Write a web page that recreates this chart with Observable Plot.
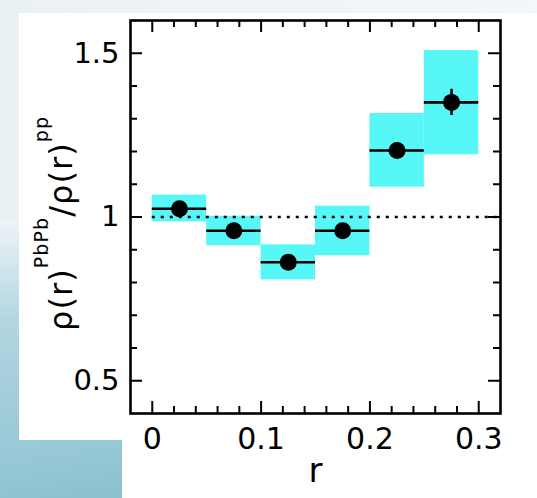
<!DOCTYPE html>
<html>
<head>
<meta charset="utf-8">
<script src="https://cdn.jsdelivr.net/npm/d3@7"></script>
<script src="https://cdn.jsdelivr.net/npm/@observablehq/plot@0.6"></script>
<style>
  html, body { margin: 0; padding: 0; }
  body { width: 537px; height: 498px; overflow: hidden; background: linear-gradient(to right, #eaf1f5, #f3f7f9); }
  #wrap { position: relative; width: 537px; height: 498px; }
  .bg { position: absolute; }
  #chart { position: absolute; left: 0; top: 0; }
</style>
</head>
<body>
<div id="wrap">
  <div class="bg" style="left:0;top:220px;width:19px;height:278px;background:linear-gradient(to bottom,#eef4f7,#b3d7e2 35%,#8fc2d1);"></div>
  <div class="bg" style="left:0;top:440px;width:122px;height:58px;background:linear-gradient(170deg,#9ccbd8,#8cc0cf);"></div>
  <div class="bg" style="left:19px;top:13px;width:518px;height:427px;background:#fff;"></div>
  <div class="bg" style="left:122px;top:440px;width:415px;height:58px;background:#fff;"></div>
  <div id="chart"></div>
</div>
<script>
// r bins
const binLo = [0.00, 0.05, 0.10, 0.15, 0.20, 0.25];
const binHi = [0.05, 0.10, 0.15, 0.20, 0.25, 0.30];
// ratio values
const ratio = [1.025, 0.958, 0.862, 0.958, 1.203, 1.350];
// statistical errors
const statErr = [0.006, 0.006, 0.006, 0.006, 0.012, 0.040];
// systematic band edges
const sysLo = [0.985, 0.912, 0.808, 0.882, 1.091, 1.190];
const sysHi = [1.067, 1.002, 0.915, 1.033, 1.316, 1.508];

// axis ticks
const xMajor = [0, 0.1, 0.2, 0.3];
const xMinor = [0.02, 0.04, 0.06, 0.08, 0.12, 0.14, 0.16, 0.18, 0.22, 0.24, 0.26, 0.28];
const yMajor = [0.5, 1, 1.5];
const yMinor = [0.6, 0.7, 0.8, 0.9, 1.1, 1.2, 1.3, 1.4];
const xDomain = [-0.02, 0.32];
const yDomain = [0.4, 1.6];

const W = 537, H = 498, mL = 130, mR = 37, mT = 20, mB = 85;
// convert tick lengths in pixels into data units of each scale
const dxPerPx = (xDomain[1] - xDomain[0]) / (W - mL - mR);
const dyPerPx = (yDomain[1] - yDomain[0]) / (H - mT - mB);
const MAJ = 12, MIN = 7;

const data = binLo.map((lo, i) => ({
  lo, hi: binHi[i], mid: (lo + binHi[i]) / 2,
  v: ratio[i], e: statErr[i], sLo: sysLo[i], sHi: sysHi[i]
}));

const tickStyle = {stroke: "black", strokeWidth: 2};
const fontFam = "'DejaVu Sans', Verdana, sans-serif";

const xTicks = (arr, len, atTop) => Plot.ruleX(arr, {
  x: d => d,
  y1: atTop ? yDomain[1] : yDomain[0],
  y2: atTop ? yDomain[1] - len * dyPerPx : yDomain[0] + len * dyPerPx,
  ...tickStyle
});
const yTicks = (arr, len, atRight) => Plot.ruleY(arr, {
  y: d => d,
  x1: atRight ? xDomain[1] : xDomain[0],
  x2: atRight ? xDomain[1] - len * dxPerPx : xDomain[0] + len * dxPerPx,
  ...tickStyle
});

const chart = Plot.plot({
  width: W,
  height: H,
  marginLeft: mL,
  marginRight: mR,
  marginTop: mT,
  marginBottom: mB,
  style: {background: "transparent", fontFamily: fontFam, fontSize: "29px", color: "black"},
  x: {domain: xDomain},
  y: {domain: yDomain},
  marks: [
    Plot.rect(data, {x1: "lo", x2: "hi", y1: "sLo", y2: "sHi", fill: "#57f7f7"}),
    Plot.ruleY([1], {x1: 0, x2: xDomain[1], stroke: "black", strokeWidth: 2.6, strokeDasharray: "3,6"}),
    Plot.ruleY(data, {y: "v", x1: "lo", x2: "hi", stroke: "black", strokeWidth: 2.6}),
    Plot.ruleX(data, {x: "mid", y1: d => d.v - d.e, y2: d => d.v + d.e, stroke: "black", strokeWidth: 2.6}),
    Plot.dot(data, {x: "mid", y: "v", r: 8.5, fill: "black", stroke: "none"}),
    xTicks(xMajor, MAJ, false), xTicks(xMinor, MIN, false),
    xTicks(xMajor, MAJ, true), xTicks(xMinor, MIN, true),
    yTicks(yMajor, MAJ, false), yTicks(yMinor, MIN, false),
    yTicks(yMajor, MAJ, true), yTicks(yMinor, MIN, true),
    Plot.frame({stroke: "black", strokeWidth: 2.6}),
    Plot.axisX({ticks: xMajor, tickSize: 0, tickPadding: 14, fontSize: 30, label: null,
      tickFormat: d => d === 0 ? "0" : d.toFixed(1)}),
    Plot.axisY({ticks: yMajor, tickSize: 0, tickPadding: 11, fontSize: 29, label: null,
      tickFormat: d => d === 1 ? "1" : d.toFixed(1)}),
    Plot.text(["r"], {frameAnchor: "bottom", dy: 68, fontSize: 34, text: d => d, fill: "black"})
  ]
});

// y-axis label with superscripts
const svg = d3.select(chart);
const lab = svg.append("text")
  .attr("transform", "translate(72,224) rotate(-90)")
  .attr("text-anchor", "middle")
  .attr("font-family", fontFam)
  .attr("font-size", 32)
  .attr("fill", "black")
  .attr("textLength", 214)
  .attr("lengthAdjust", "spacing");
lab.append("tspan").text("ρ(r)");
lab.append("tspan").attr("font-size", 19).attr("dy", -24).text("PbPb");
lab.append("tspan").attr("dy", 24).text("/");
lab.append("tspan").text("ρ(r)");
lab.append("tspan").attr("font-size", 19).attr("dy", -24).text("pp");

document.getElementById("chart").appendChild(chart);
</script>
</body>
</html>
